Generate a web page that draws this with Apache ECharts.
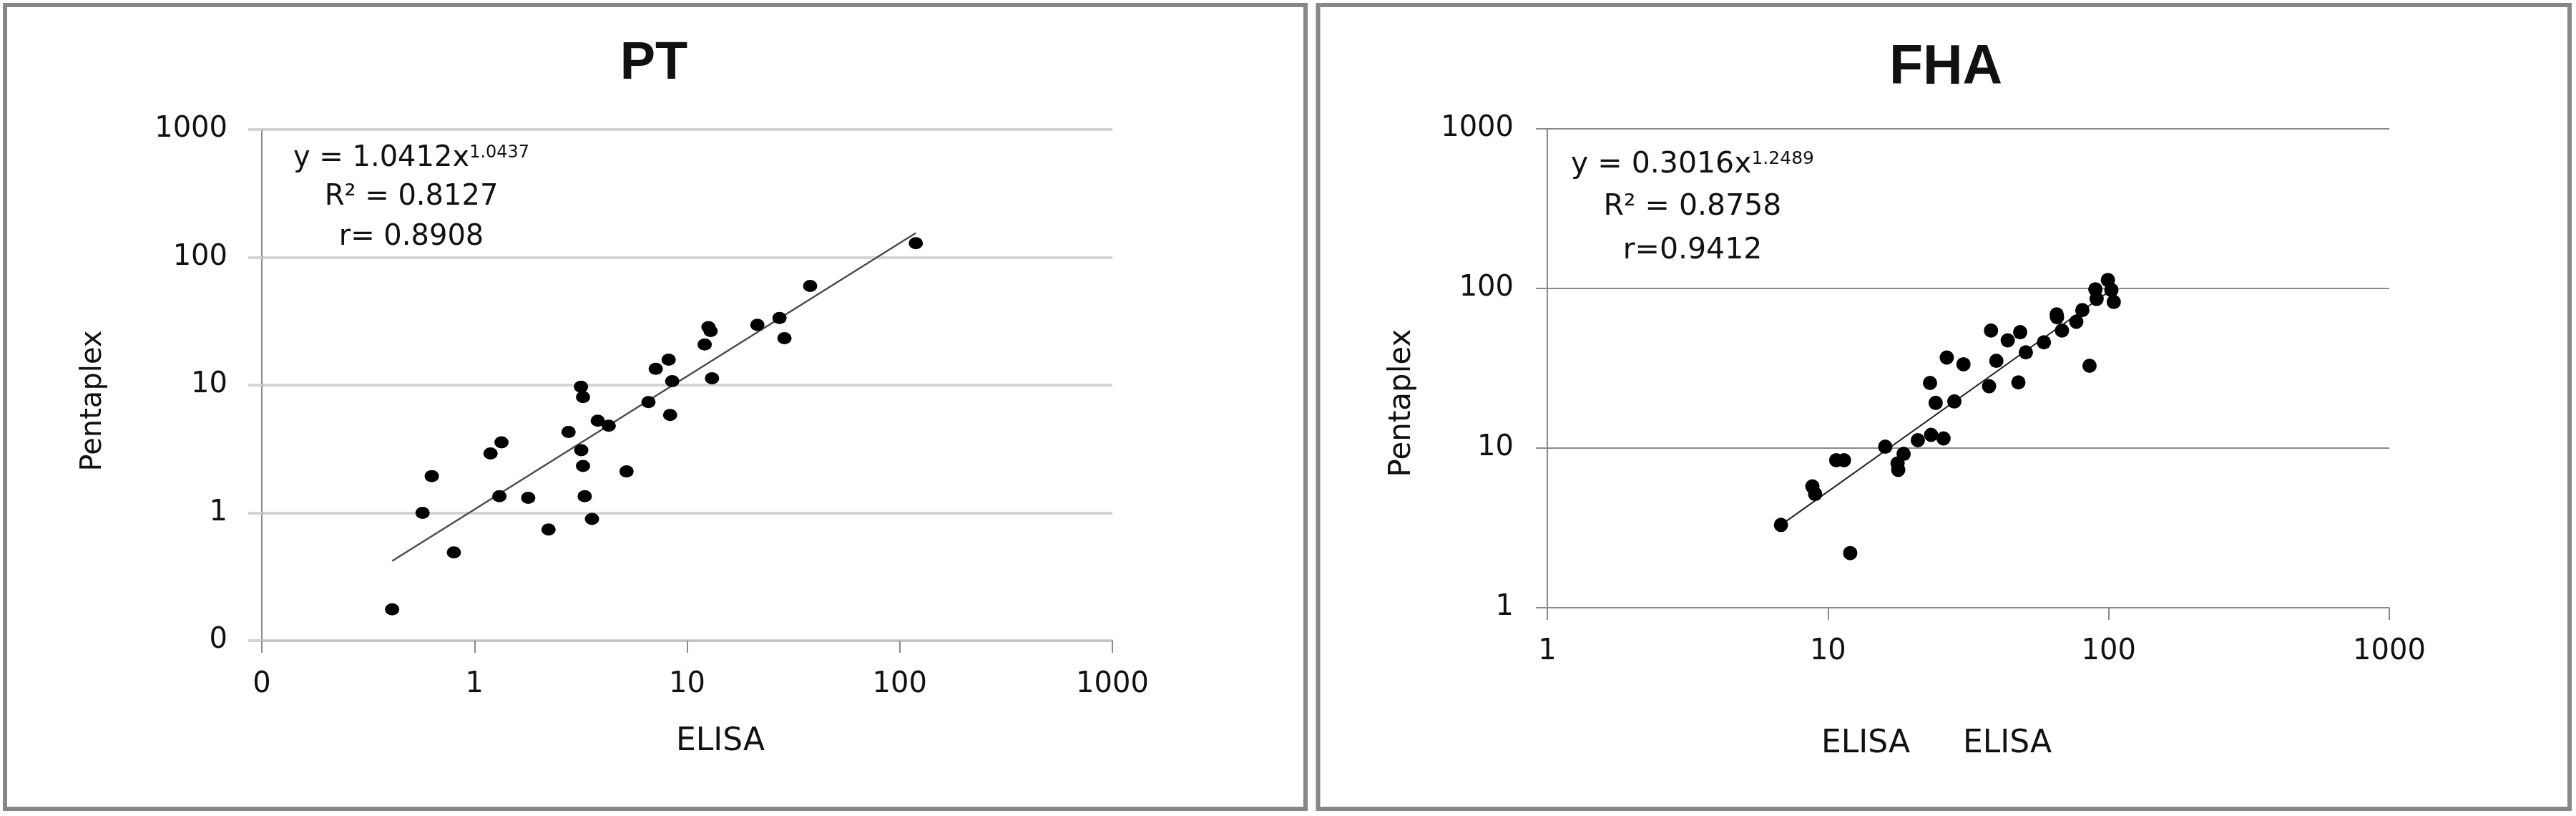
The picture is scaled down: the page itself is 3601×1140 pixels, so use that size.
<!DOCTYPE html>
<html>
<head>
<meta charset="utf-8">
<title>PT / FHA</title>
<script src="https://cdn.jsdelivr.net/npm/echarts@6/dist/echarts.min.js"></script>
<style>
  html, body { margin: 0; padding: 0; background: #fff; }
  #chart { width: 3601px; height: 1140px; }
</style>
</head>
<body>
<div id="chart"></div>
<script>
// PT panel: ELISA (x) vs Pentaplex (y)
const ptElisa = [0.41, 0.57, 0.63, 0.80, 1.19, 1.34, 1.31, 1.79, 2.23, 2.77, 3.17, 3.24, 3.18, 3.24, 3.30, 3.57, 3.80, 4.28, 5.19, 6.58, 8.32, 8.51, 7.12, 8.19, 13.1, 12.1, 12.6, 12.9, 21.4, 27.2, 28.7, 37.9, 119];
const ptPentaplex = [0.176, 1.0, 1.94, 0.49, 2.92, 3.56, 1.35, 1.31, 0.74, 4.30, 9.7, 8.05, 3.09, 2.33, 1.35, 0.895, 5.26, 4.81, 2.11, 7.36, 5.83, 10.75, 13.4, 15.8, 11.3, 20.8, 28.4, 26.5, 29.6, 33.5, 23.3, 59.7, 129];
// trendline end points
const ptTrendElisa = [0.41, 119];
const ptTrendPentaplex = [0.42, 155];

// FHA panel
const fhaElisa = [6.8, 8.8, 9.0, 10.7, 11.4, 12.0, 16.0, 17.8, 17.7, 18.6, 20.9, 23.3, 25.8, 24.2, 23.1, 28.2, 26.5, 30.4, 37.5, 38.1, 39.8, 43.7, 48.4, 47.7, 50.7, 58.8, 65.3, 65.5, 68.2, 76.7, 80.6, 85.5, 89.7, 90.6, 99.4, 102.3, 104.3];
const fhaPentaplex = [3.3, 5.75, 5.16, 8.4, 8.4, 2.2, 10.2, 7.3, 8.0, 9.2, 11.2, 12.1, 11.5, 19.2, 25.6, 19.6, 36.9, 33.5, 24.4, 54.5, 35.2, 47.3, 53.2, 25.8, 39.8, 46.0, 68.8, 66, 54.5, 61.9, 73.2, 32.8, 98.8, 86, 113, 97.8, 82.3];
const fhaTrendElisa = [6.8, 104];
const fhaTrendPentaplex = [3.3, 100];

const ptTicks = ['0', '1', '10', '100', '1000'];   // 0.1 .. 1000
const fhaTicks = ['1', '10', '100', '1000'];       // 1 .. 1000

const FONT = 'DejaVu Sans';
const TEXT = '#111';

function pairs(xs, ys) {
  return xs.map((x, i) => [x, ys[i]]);
}
function tickLabel(list, minExp) {
  return v => list[Math.round(Math.log10(v)) - minExp] ?? '';
}

function axisBase(labels, minExp, margin) {
  return {
    type: 'log',
    logBase: 10,
    min: Math.pow(10, minExp),
    max: 1000,
    axisLabel: {
      margin: margin,
      fontSize: 40,
      fontFamily: FONT,
      color: TEXT,
      showMinLabel: true,
      showMaxLabel: true,
      formatter: tickLabel(labels, minExp)
    },
    minorTick: { show: false },
    minorSplitLine: { show: false }
  };
}

const chart = echarts.init(document.getElementById('chart'));

let option = {
  animation: false,
  backgroundColor: '#fff',
  grid: [
    { left: 366, top: 181, width: 1189, height: 714 },
    { left: 2163, top: 180, width: 1177, height: 669 }
  ],
  xAxis: [
    {
      ...axisBase(ptTicks, -1, 42),
      gridIndex: 0,
      axisLine: { show: true, onZero: false, lineStyle: { color: '#c4c4c4', width: 3 } },
      axisTick: { show: true, length: 17, lineStyle: { color: '#8a8a8a', width: 2 } },
      splitLine: { show: false }
    },
    {
      ...axisBase(fhaTicks, 0, 42),
      gridIndex: 1,
      axisLine: { show: true, onZero: false, lineStyle: { color: '#8a8a8a', width: 2 } },
      axisTick: { show: true, length: 17, lineStyle: { color: '#8a8a8a', width: 2 } },
      splitLine: { show: false }
    }
  ],
  yAxis: [
    {
      ...axisBase(ptTicks, -1, 48),
      gridIndex: 0,
      axisLine: { show: true, onZero: false, lineStyle: { color: '#8a8a8a', width: 2 } },
      axisTick: { show: true, length: 19, lineStyle: { color: '#d4d4d4', width: 4 } },
      splitLine: { show: true, lineStyle: { color: '#d4d4d4', width: 4 } }
    },
    {
      ...axisBase(fhaTicks, 0, 47),
      gridIndex: 1,
      axisLine: { show: true, onZero: false, lineStyle: { color: '#8a8a8a', width: 2 } },
      axisTick: { show: true, length: 16, lineStyle: { color: '#8a8a8a', width: 2 } },
      splitLine: { show: true, lineStyle: { color: '#8a8a8a', width: 2 } }
    }
  ],
  series: [
    {
      name: 'PT trend',
      type: 'line',
      xAxisIndex: 0,
      yAxisIndex: 0,
      data: pairs(ptTrendElisa, ptTrendPentaplex),
      showSymbol: false,
      symbol: 'none',
      lineStyle: { color: '#4a4a4a', width: 2.5 },
      z: 2
    },
    {
      name: 'PT',
      type: 'scatter',
      xAxisIndex: 0,
      yAxisIndex: 0,
      data: pairs(ptElisa, ptPentaplex),
      symbol: 'circle',
      symbolSize: [20, 17],
      itemStyle: { color: '#000', opacity: 1 },
      z: 3
    },
    {
      name: 'FHA trend',
      type: 'line',
      xAxisIndex: 1,
      yAxisIndex: 1,
      data: pairs(fhaTrendElisa, fhaTrendPentaplex),
      showSymbol: false,
      symbol: 'none',
      lineStyle: { color: '#222', width: 2 },
      z: 2
    },
    {
      name: 'FHA',
      type: 'scatter',
      xAxisIndex: 1,
      yAxisIndex: 1,
      data: pairs(fhaElisa, fhaPentaplex),
      symbol: 'circle',
      symbolSize: 20,
      itemStyle: { color: '#000', opacity: 1 },
      z: 3
    }
  ],
  graphic: [
    // panel frames
    { type: 'rect', shape: { x: 7, y: 7, width: 1818, height: 1123 }, style: { fill: 'none', stroke: '#878787', lineWidth: 6 }, z: -1 },
    { type: 'rect', shape: { x: 1842.5, y: 7, width: 1749.5, height: 1123 }, style: { fill: 'none', stroke: '#878787', lineWidth: 6 }, z: -1 },
    // titles
    { type: 'text', x: 914, y: 90, style: { text: 'PT', fontSize: 74, fontWeight: 'bold', fontFamily: 'Liberation Sans', fill: TEXT, align: 'center', verticalAlign: 'middle' } },
    { type: 'text', x: 2720, y: 96, style: { text: 'FHA', fontSize: 77, fontWeight: 'bold', fontFamily: 'Liberation Sans', fill: TEXT, align: 'center', verticalAlign: 'middle' } },
    // axis names
    { type: 'text', x: 131, y: 560, rotation: Math.PI / 2, style: { text: 'Pentaplex', fontSize: 40, fontFamily: FONT, fill: TEXT, align: 'center', verticalAlign: 'middle' } },
    { type: 'text', x: 1960, y: 563, rotation: Math.PI / 2, style: { text: 'Pentaplex', fontSize: 42, fontFamily: FONT, fill: TEXT, align: 'center', verticalAlign: 'middle' } },
    { type: 'text', x: 1007, y: 1037, style: { text: 'ELISA', fontSize: 44, fontFamily: FONT, fill: TEXT, align: 'center', verticalAlign: 'middle' } },
    { type: 'text', x: 2608, y: 1040, style: { text: 'ELISA', fontSize: 44, fontFamily: FONT, fill: TEXT, align: 'center', verticalAlign: 'middle' } },
    { type: 'text', x: 2806, y: 1040, style: { text: 'ELISA', fontSize: 44, fontFamily: FONT, fill: TEXT, align: 'center', verticalAlign: 'middle' } },
    // PT equation
    {
      type: 'text', x: 575, y: 222,
      style: {
        text: '{m|y = 1.0412x}{s|1.0437}', align: 'center', verticalAlign: 'middle', fill: TEXT,
        rich: {
          m: { fontSize: 40, fontFamily: FONT, fill: TEXT, lineHeight: 40 },
          s: { fontSize: 24, fontFamily: FONT, fill: TEXT, lineHeight: 24, verticalAlign: 'top' }
        }
      }
    },
    { type: 'text', x: 575, y: 276, style: { text: 'R\u00b2 = 0.8127', fontSize: 40, fontFamily: FONT, fill: TEXT, align: 'center', verticalAlign: 'middle' } },
    { type: 'text', x: 575, y: 332, style: { text: 'r= 0.8908', fontSize: 40, fontFamily: FONT, fill: TEXT, align: 'center', verticalAlign: 'middle' } },
    // FHA equation
    {
      type: 'text', x: 2366, y: 230,
      style: {
        text: '{m|y = 0.3016x}{s|1.2489}', align: 'center', verticalAlign: 'middle', fill: TEXT,
        rich: {
          m: { fontSize: 41, fontFamily: FONT, fill: TEXT, lineHeight: 41 },
          s: { fontSize: 25, fontFamily: FONT, fill: TEXT, lineHeight: 25, verticalAlign: 'top' }
        }
      }
    },
    { type: 'text', x: 2366, y: 289, style: { text: 'R\u00b2 = 0.8758', fontSize: 41, fontFamily: FONT, fill: TEXT, align: 'center', verticalAlign: 'middle' } },
    { type: 'text', x: 2366, y: 350, style: { text: 'r=0.9412', fontSize: 41, fontFamily: FONT, fill: TEXT, align: 'center', verticalAlign: 'middle' } }
  ]
};

chart.setOption(option);
window.addEventListener('resize', () => chart.resize());
</script>
</body>
</html>
